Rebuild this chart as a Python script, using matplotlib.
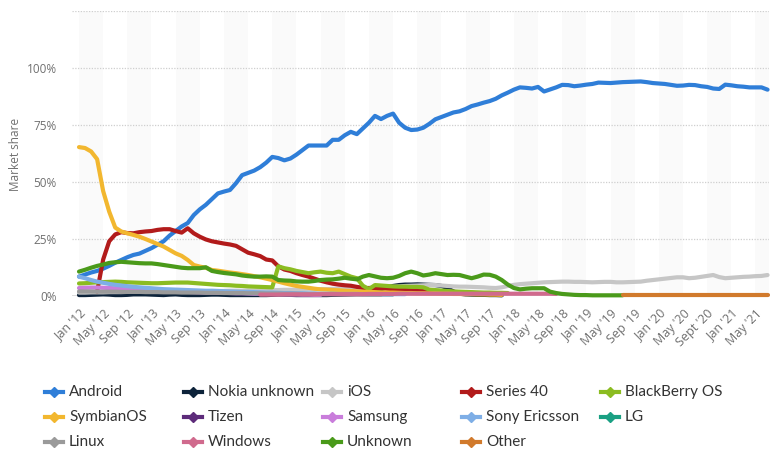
import numpy as np
import matplotlib
matplotlib.use("Agg")
import matplotlib.pyplot as plt
from matplotlib.lines import Line2D

# ---------------- data (monthly, Jan 2012 = month 0 ... Jul 2021 = month 114) ----------------
n_months = 115
tick_labels = ["Jan '12", "May '12", "Sep '12", "Jan '13", "May '13", "Sep '13", "Jan '14", "May '14",
               "Sep '14", "Jan '15", "May '15", "Sep '15", "Jan '16", "May '16", "Sep '16", "Jan '17",
               "May '17", "Sep '17", "Jan '18", "May '18", "Sep '18", "Jan '19", "May '19", "Sep '19",
               "Jan '20", "May '20", "Sept '20", "Jan '21", "May '21"]

android = [8.5, 9.4, 10.3, 11.0, 12.0, 13.2, 14.6, 15.8, 17.0, 18.0, 18.6, 19.8, 21.0, 22.5, 24.0, 26.5,
           28.5, 30.5, 32.0, 35.5, 38.0, 40.0, 42.5, 45.0, 45.8, 46.5, 49.5, 53.0, 54.0, 55.0, 56.5, 58.5,
           61.0, 60.5, 59.5, 60.3, 62.0, 64.0, 66.0, 66.0, 66.0, 66.0, 68.5, 68.5, 70.5, 72.0, 71.0, 73.5,
           76.0, 79.0, 77.6, 79.0, 80.0, 76.0, 73.8, 72.8, 73.0, 73.8, 75.5, 77.5, 78.5, 79.5, 80.5, 81.0,
           82.0, 83.3, 84.0, 84.8, 85.5, 86.5, 88.0, 89.2, 90.5, 91.5, 91.3, 91.0, 91.7, 89.7, 90.6, 91.5,
           92.6, 92.5, 92.0, 92.3, 92.7, 93.0, 93.6, 93.5, 93.4, 93.6, 93.8, 93.9, 94.0, 94.1, 93.8, 93.4,
           93.2, 93.0, 92.6, 92.2, 92.3, 92.6, 92.5, 92.0, 91.7, 91.0, 90.8, 92.7, 92.4, 92.0, 91.8, 91.5,
           91.5, 91.5, 90.5]

nokia_unknown_start = 0
nokia_unknown = [0.4, 0.4, 0.5, 0.6, 0.7, 0.6, 0.4, 0.4, 0.5, 0.7, 0.7, 0.7, 0.6, 0.5, 0.4, 0.6,
                 0.7, 0.5, 0.4, 0.4, 0.4, 0.5, 0.6, 0.6, 0.5, 0.4, 0.4, 0.4, 0.4, 0.4, 0.4, 0.4,
                 0.5, 0.6, 0.6, 0.5, 0.4, 0.4, 0.4, 0.4, 0.4, 0.4, 0.5, 0.5, 0.6, 0.7, 0.8, 0.9,
                 1.2, 2.0, 3.0, 3.8, 4.4, 4.8, 5.0, 5.0, 5.1, 5.0, 4.9, 4.8, 4.4, 3.5, 2.0, 1.0,
                 0.7, 0.6, 0.5, 0.5, 0.4, 0.4, 0.3]

ios = [1.5, 1.5, 1.6, 1.6, 1.6, 1.7, 1.7, 1.7, 1.8, 1.8, 1.8, 1.9, 1.9, 1.9, 2.0, 2.0, 2.0, 2.0,
       2.1, 2.1, 2.1, 2.1, 2.2, 2.2, 2.2, 2.3, 2.3, 2.3, 2.4, 2.4, 2.5, 2.5, 2.6, 2.6, 2.7, 2.7,
       2.8, 2.8, 2.9, 2.9, 3.0, 3.0, 3.1, 3.2, 3.2, 3.3, 3.4, 3.5, 3.6, 3.7, 3.8, 3.9, 4.0, 4.2,
       4.4, 4.5, 4.6, 4.7, 4.8, 4.8, 4.6, 4.4, 4.2, 4.1, 4.1, 4.0, 3.9, 3.8, 3.6, 3.5, 3.8, 4.4,
       4.9, 5.2, 5.4, 5.6, 5.8, 6.0, 6.1, 6.2, 6.3, 6.3, 6.2, 6.2, 6.1, 6.0, 6.1, 6.2, 6.2, 6.0,
       6.0, 6.1, 6.2, 6.3, 6.7, 7.0, 7.3, 7.6, 7.9, 8.2, 8.2, 7.8, 8.0, 8.4, 8.8, 9.2, 8.3, 7.8,
       8.0, 8.2, 8.4, 8.5, 8.7, 8.8, 9.2]

series40_start = 3
series40 = [2.0, 16.0, 24.0, 27.0, 28.0, 27.6, 27.5, 28.0, 28.3, 28.5, 29.0, 29.3, 29.3, 28.5, 27.8,
            29.7, 27.5, 26.0, 24.8, 24.0, 23.5, 23.0, 22.6, 22.0, 20.5, 19.0, 18.3, 17.5, 16.0, 15.6,
            13.0, 11.6, 11.0, 10.0, 9.2, 8.5, 7.6, 6.7, 6.0, 5.4, 5.0, 4.7, 4.5, 4.0, 3.6, 3.4, 3.4,
            3.4, 3.2, 3.0, 3.0, 2.8, 2.6, 2.5, 2.3, 2.2, 2.0, 2.0, 1.9, 1.8, 1.7, 1.5, 1.4, 1.2, 1.0,
            0.9, 0.8, 0.7]

blackberry_start = 0
blackberry = [5.5, 5.6, 5.8, 6.0, 6.1, 6.2, 6.3, 6.2, 6.0, 5.9, 5.8, 5.7, 5.6, 5.6, 5.7, 5.8, 5.9,
              5.9, 5.9, 5.7, 5.5, 5.3, 5.1, 4.9, 4.8, 4.7, 4.5, 4.4, 4.2, 4.1, 4.0, 3.9, 3.8, 13.0,
              12.2, 11.7, 11.0, 10.5, 10.0, 10.4, 10.7, 10.2, 10.0, 10.7, 9.6, 8.5, 7.8, 4.5, 3.0,
              4.8, 4.6, 4.4, 4.2, 4.1, 4.1, 4.0, 4.0, 3.8, 2.8, 2.6, 2.4, 2.2, 2.0, 1.9, 1.8, 1.7,
              1.6, 1.5, 1.5, 1.4, 1.4, 1.3]

symbian_start = 0
symbian = [65.3, 64.9, 63.4, 60.0, 46.0, 37.0, 30.0, 28.3, 27.5, 26.8, 26.0, 25.0, 23.9, 22.8, 21.7,
           20.2, 18.7, 17.6, 15.8, 13.6, 12.9, 12.4, 11.4, 11.1, 10.7, 10.3, 10.0, 9.6, 9.2, 8.7, 8.2,
           7.6, 7.0, 6.3, 5.6, 5.0, 4.4, 4.0, 3.6, 3.2, 2.9, 2.8, 2.6, 2.5, 2.3, 2.2, 2.0, 1.9, 1.8,
           1.7, 1.6, 1.5, 1.5, 1.4, 1.3, 1.3, 1.2, 1.2, 1.1, 1.1, 1.0, 1.0, 0.9, 0.9, 0.8, 0.8, 0.7,
           0.7, 0.6, 0.6, 0.5]

tizen_start = 44
tizen = [0.9, 0.9, 0.9, 0.9, 0.8, 0.8, 0.8, 0.8, 0.8]

samsung_start = 0
samsung = [3.5, 3.6, 3.7, 3.7, 3.6, 3.5, 3.4, 3.3, 3.2, 3.0, 2.9, 2.8, 2.6, 2.5, 2.3, 2.2, 2.0, 1.9,
           1.8, 1.7, 1.6, 1.5, 1.5, 1.4, 1.4, 1.3, 1.2, 1.2, 1.1, 1.0, 1.0, 0.9, 0.9, 0.8, 0.8, 0.7,
           0.7, 0.6, 0.6, 0.5, 0.5]

sony_ericsson_start = 0
sony_ericsson = [8.5, 7.8, 7.0, 6.3, 5.8, 5.3, 4.9, 4.6, 4.3, 4.0, 3.8, 3.6, 3.4, 3.2, 3.0, 2.9, 2.8,
                 2.7, 2.6, 2.5, 2.4, 2.3, 2.3, 2.2, 2.1, 2.0, 1.9, 1.8, 1.8, 1.7, 1.6, 1.5, 1.5, 1.4,
                 1.3, 1.3, 1.2, 1.2, 1.1, 1.1, 1.0, 1.0, 1.0, 0.9, 0.9, 0.9, 0.9, 0.8, 0.8, 0.8, 0.8,
                 0.8, 0.8, 0.8, 0.8]

lg_start = 46
lg = [0.9, 0.8, 0.8, 0.8, 0.8, 0.8, 0.8]

linux_start = 0
linux = [2.0, 2.0, 2.0, 1.9, 1.9, 1.9, 1.9, 1.8, 1.8, 1.8, 1.8, 1.7, 1.7, 1.7, 1.6, 1.6, 1.6, 1.5,
         1.5, 1.5, 1.5, 1.4, 1.4, 1.4, 1.3, 1.3, 1.3, 1.3, 1.2, 1.2, 1.2, 1.1, 1.1, 1.1, 1.0, 1.0,
         1.0, 0.9, 0.9, 0.9, 0.8, 0.8, 0.8, 0.7, 0.7, 0.7, 0.7, 0.6, 0.6, 0.6, 0.6]

windows_start = 30
windows = [0.6, 0.6, 0.6, 0.6, 0.7, 0.7, 0.7, 0.7, 0.7, 0.7, 0.8, 0.8, 0.8, 0.8, 0.8, 0.8, 0.8, 0.8,
           0.9, 0.9, 0.9, 0.9, 0.9, 1.0, 1.0, 1.0, 1.0, 1.0, 1.0, 1.0, 1.0, 1.0, 1.0, 1.0, 1.0, 1.0,
           1.0, 1.0, 1.0, 1.0, 1.0, 1.0, 1.0, 1.0, 1.0, 1.0, 1.0, 1.0, 1.0, 0.9]

unknown_start = 0
unknown = [10.7, 11.5, 12.4, 13.2, 13.8, 14.5, 14.8, 15.0, 14.8, 14.6, 14.4, 14.3, 14.3, 14.0, 13.6,
           13.2, 12.8, 12.4, 12.2, 12.2, 12.2, 12.6, 11.0, 10.5, 10.1, 9.8, 9.5, 9.0, 8.7, 8.5, 8.5,
           8.6, 8.5, 7.0, 6.8, 6.7, 6.4, 6.3, 6.3, 6.6, 7.0, 7.2, 7.3, 7.6, 8.0, 7.6, 7.3, 8.5, 9.2,
           8.6, 8.0, 7.8, 8.0, 8.8, 10.0, 10.7, 10.0, 9.0, 9.4, 10.0, 9.6, 9.2, 9.3, 9.2, 8.5, 7.8,
           8.5, 9.4, 9.3, 8.5, 7.0, 5.0, 3.5, 2.9, 3.2, 3.4, 3.4, 3.4, 1.9, 1.3, 0.9, 0.7, 0.5, 0.4,
           0.4, 0.3, 0.3, 0.3, 0.3, 0.3, 0.3]

other_start = 90
other = [0.4, 0.4, 0.4, 0.4, 0.4, 0.4, 0.4, 0.4, 0.4, 0.4, 0.4, 0.4, 0.4, 0.4, 0.4, 0.4, 0.4, 0.4,
         0.4, 0.4, 0.4, 0.4, 0.4, 0.4, 0.4]

# ---------------- styling ----------------
series = [
    ("Android", android, 0, "#2f7ed8"),
    ("Nokia unknown", nokia_unknown, nokia_unknown_start, "#0d233a"),
    ("iOS", ios, 0, "#c6c6c6"),
    ("Series 40", series40, series40_start, "#b21b1b"),
    ("BlackBerry OS", blackberry, blackberry_start, "#8bbc21"),
    ("SymbianOS", symbian, symbian_start, "#f2b72f"),
    ("Tizen", tizen, tizen_start, "#5d2b7a"),
    ("Samsung", samsung, samsung_start, "#c97ddb"),
    ("Sony Ericsson", sony_ericsson, sony_ericsson_start, "#7eaee6"),
    ("LG", lg, lg_start, "#1aa083"),
    ("Linux", linux, linux_start, "#9a9a9a"),
    ("Windows", windows, windows_start, "#d06a8d"),
    ("Unknown", unknown, unknown_start, "#4a9a1a"),
    ("Other", other, other_start, "#d17a2c"),
]
# drawing order (later = on top); Tizen/LG are tiny and lie underneath
draw_z = {"Tizen": 1.5, "LG": 1.6}

W, H = 770, 465
fig = plt.figure(figsize=(W / 100, H / 100), dpi=100)
fig.patch.set_facecolor("white")
ax = fig.add_axes([72 / W, 1 - 296 / H, (769 - 72) / W, (296 - 11) / H])

# alternating vertical bands between ticks
tick_pos = np.arange(0, n_months, 4)
for i, t in enumerate(tick_pos):
    if i % 2 == 0:
        ax.axvspan(t, t + 4, color="#fafafa", lw=0, zorder=0)

for yv in [25, 50, 75, 100, 125]:
    ax.axhline(yv, color="#cfcfcf", lw=0.9, ls=(0, (1, 1.2)), zorder=1)
ax.axhline(0, color="#555555", lw=1.0, zorder=1)

for k, (name, vals, start, col) in enumerate(series):
    x = np.arange(start, start + len(vals))
    ax.plot(x, vals, color=col, lw=3.0, solid_capstyle="round", solid_joinstyle="round",
            zorder=draw_z.get(name, 2 + k), clip_on=False)

ax.set_xlim(-1.16, 114.24)
ax.set_ylim(0, 125)
ax.set_yticks([0, 25, 50, 75, 100, 125])
ax.set_yticklabels(["0%", "25%", "50%", "75%", "100%", ""])
ax.set_xticks(tick_pos)
ax.set_xticklabels(tick_labels, rotation=45, ha="right", va="top", rotation_mode="anchor")
ax.tick_params(axis="both", length=0, colors="#707070")
ax.tick_params(axis="y", pad=11, labelsize=8.5)
ax.tick_params(axis="x", pad=8, labelsize=9)
for lab in ax.get_xticklabels() + ax.get_yticklabels():
    lab.set_fontfamily(["Open Sans", "DejaVu Sans"])
for s in ax.spines.values():
    s.set_visible(False)
ax.set_facecolor("white")

fig.text(16 / W, 1 - 154 / H, "Market share", rotation=90, ha="center", va="center",
         color="#707070", fontsize=8.5, family=["Open Sans", "DejaVu Sans"])

# legend (manual grid, 5 columns)
col_x = [45, 184, 323, 462, 601]
row_y = [392, 417, 442]
for i, (name, vals, start, col) in enumerate(series):
    r, c = divmod(i, 5)
    x0 = col_x[c]
    y0 = 1 - row_y[r] / H
    fig.add_artist(Line2D([x0 / W, (x0 + 18) / W], [y0, y0], transform=fig.transFigure,
                          color=col, lw=3.0))
    fig.add_artist(Line2D([(x0 + 9) / W], [y0], transform=fig.transFigure, color=col,
                          marker="D", markersize=5, lw=0))
    fig.text((x0 + 24) / W, y0, name, ha="left", va="center", fontsize=11, color="#333333",
             family=["Lato", "DejaVu Sans"])

fig.savefig("out.png", dpi=100, facecolor="white")
